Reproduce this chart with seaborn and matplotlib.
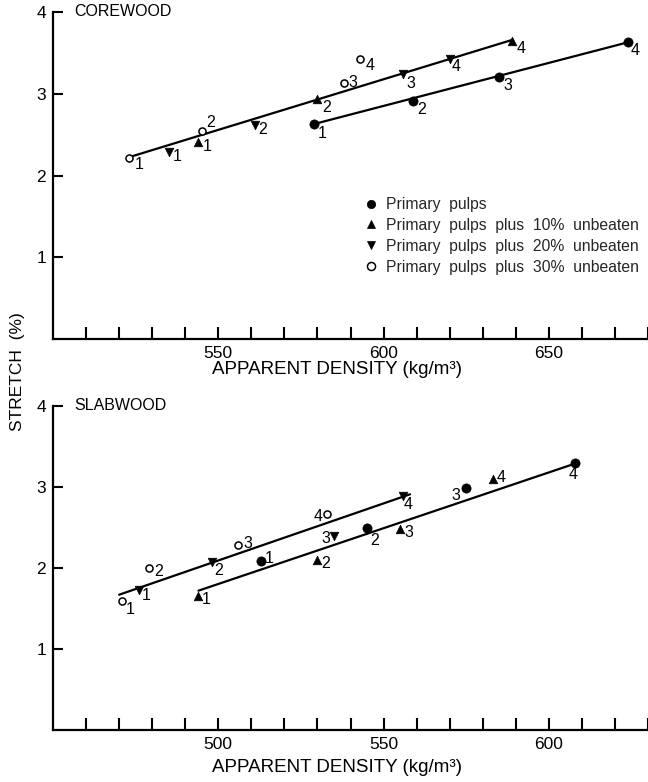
import matplotlib
matplotlib.use("Agg")
import matplotlib.pyplot as plt
from matplotlib.lines import Line2D
import matplotlib.transforms as mtransforms
import seaborn as sns
import pandas as pd
import numpy as np

sns.set_theme(style="white")
plt.rcParams['font.family'] = ['Liberation Sans', 'DejaVu Sans']

# ---------------- data ----------------
series_names = ["Primary  pulps",
                "Primary  pulps  plus  10%  unbeaten",
                "Primary  pulps  plus  20%  unbeaten",
                "Primary  pulps  plus  30%  unbeaten"]

# COREWOOD
core_primary_x = [579, 609, 635, 674]
core_primary_y = [2.63, 2.91, 3.21, 3.63]
core_primary_id = ["1", "2", "3", "4"]
core_p10_x = [544, 580, 639]
core_p10_y = [2.41, 2.93, 3.64]
core_p10_id = ["1", "2", "4"]
core_p20_x = [535, 561, 606, 620]
core_p20_y = [2.29, 2.62, 3.24, 3.43]
core_p20_id = ["1", "2", "3", "4"]
core_p30_x = [523, 545, 588, 593]
core_p30_y = [2.22, 2.55, 3.13, 3.42]
core_p30_id = ["1", "2", "3", "4"]
core_fit_upper_x = [523.5, 639]
core_fit_upper_y = [2.23, 3.66]
core_fit_lower_x = [579, 674]
core_fit_lower_y = [2.63, 3.63]

# SLABWOOD
slab_primary_x = [513, 545, 575, 608]
slab_primary_y = [2.09, 2.50, 2.99, 3.30]
slab_primary_id = ["1", "2", "3", "4"]
slab_p10_x = [494, 530, 555, 583]
slab_p10_y = [1.66, 2.10, 2.48, 3.10]
slab_p10_id = ["1", "2", "3", "4"]
slab_p20_x = [476, 498, 535, 556]
slab_p20_y = [1.73, 2.07, 2.40, 2.89]
slab_p20_id = ["1", "2", "3", "4"]
slab_p30_x = [471, 479, 506, 533]
slab_p30_y = [1.59, 2.00, 2.29, 2.67]
slab_p30_id = ["1", "2", "3", "4"]
slab_fit_upper_x = [470, 558]
slab_fit_upper_y = [1.67, 2.91]
slab_fit_lower_x = [494, 608]
slab_fit_lower_y = [1.72, 3.29]

x_tick_labels_core = [550, 600, 650]
x_tick_labels_slab = [500, 550, 600]
y_ticks = [1, 2, 3, 4]

# ---------------- styles / label offsets (pixels) ----------------
markers = ["o", "^", "v", "o"]
filled = [True, True, True, False]
msizes = [44, 38, 38, 26]

core_offsets = [
    [(8, -10), (8, -8), (9, -9), (7, -8)],
    [(9, -5), (9, -8), (9, -7)],
    [(8, -5), (8, -5), (8, -9), (6, -8)],
    [(10, -7), (9, 8), (9, 1), (10, -6)],
]
slab_offsets = [
    [(8, 2), (8, -13), (-10, -8), (-2, -12)],
    [(8, -4), (8, -4), (9, -3), (8, 1)],
    [(7, -6), (7, -8), (-8, -3), (5, -9)],
    [(8, -8), (10, -4), (10, 1), (-9, -3)],
]

fig = plt.figure(figsize=(6.48, 7.82), dpi=100)
W, H = 648, 782
ax_top = fig.add_axes([53 / W, 1 - 339 / H, 595 / W, 327 / H])
ax_bot = fig.add_axes([53 / W, 1 - 730 / H, 595 / W, 324 / H])


def draw_panel(ax, groups, fits, offsets, xlim, xlabels, title, xlab_drop):
    for i, (xs, ys, ids) in enumerate(groups):
        df = pd.DataFrame({"x": xs, "y": ys})
        if filled[i]:
            sns.scatterplot(data=df, x="x", y="y", ax=ax, marker=markers[i],
                            s=msizes[i], color="black", edgecolor="black",
                            linewidth=0.5, zorder=4)
        else:
            sns.scatterplot(data=df, x="x", y="y", ax=ax, marker=markers[i],
                            s=msizes[i], facecolor="white", edgecolor="black",
                            linewidth=1.1, zorder=4)
        for j, (xv, yv, lab) in enumerate(zip(xs, ys, ids)):
            dx, dy = offsets[i][j]
            tr = mtransforms.offset_copy(ax.transData, fig=fig,
                                         x=dx * 0.72, y=dy * 0.72, units="points")
            ax.text(xv, yv, lab, transform=tr, ha="center", va="center",
                    fontsize=11.5, color="black", zorder=5)
    for fx, fy in fits:
        dff = pd.DataFrame({"x": fx, "y": fy})
        sns.lineplot(data=dff, x="x", y="y", ax=ax, color="black", lw=1.6,
                     zorder=3)
    ticks = np.arange(xlim[0] + 10, xlim[1] + 1, 10)
    ax.set_xlim(*xlim)
    ax.set_ylim(0, 4)
    ax.set_xticks(ticks)
    ax.set_xticklabels([str(int(t)) if int(t) in xlabels else "" for t in ticks])
    ax.set_yticks(y_ticks)
    ax.set_yticklabels([str(t) for t in y_ticks])
    ax.tick_params(axis="x", direction="in", length=9, width=1.5, pad=5,
                   labelsize=12.5, colors="black", bottom=True)
    ax.tick_params(axis="y", direction="in", length=7, width=1.5, pad=5,
                   labelsize=12.5, colors="black", left=True)
    for s in ["top", "right"]:
        ax.spines[s].set_visible(False)
    for s in ["left", "bottom"]:
        ax.spines[s].set_visible(True)
        ax.spines[s].set_linewidth(1.6)
        ax.spines[s].set_color("black")
    ax.set_xlabel("APPARENT DENSITY (kg/m³)", fontsize=13.5, color="black")
    ax.xaxis.set_label_coords((337 - 53) / 595,
                              -xlab_drop / (ax.get_position().height * H))
    ax.xaxis.label.set_va("center")
    ax.set_ylabel("")
    ax.text(0.036, 1.0, title, transform=ax.transAxes, fontsize=11.5,
            ha="left", va="center", color="black")
    ax.set_facecolor("white")
    ax.grid(False)


draw_panel(ax_top,
           [(core_primary_x, core_primary_y, core_primary_id),
            (core_p10_x, core_p10_y, core_p10_id),
            (core_p20_x, core_p20_y, core_p20_id),
            (core_p30_x, core_p30_y, core_p30_id)],
           [(core_fit_upper_x, core_fit_upper_y),
            (core_fit_lower_x, core_fit_lower_y)],
           core_offsets, (500, 680), x_tick_labels_core, "COREWOOD", 31)

draw_panel(ax_bot,
           [(slab_primary_x, slab_primary_y, slab_primary_id),
            (slab_p10_x, slab_p10_y, slab_p10_id),
            (slab_p20_x, slab_p20_y, slab_p20_id),
            (slab_p30_x, slab_p30_y, slab_p30_id)],
           [(slab_fit_upper_x, slab_fit_upper_y),
            (slab_fit_lower_x, slab_fit_lower_y)],
           slab_offsets, (450, 630), x_tick_labels_slab, "SLABWOOD", 38)

# legend
handles = []
for i, name in enumerate(series_names):
    handles.append(Line2D([], [], linestyle="none", marker=markers[i],
                          markersize=6 if i == 0 else 5.8,
                          markerfacecolor="black" if filled[i] else "white",
                          markeredgecolor="black",
                          markeredgewidth=0.5 if filled[i] else 1.1))
leg = ax_top.legend(handles, series_names, loc="upper left",
                    bbox_to_anchor=((365 - 53) / 595, 1 - (197 - 12) / 327),
                    frameon=False, fontsize=11.3, handlelength=0.8,
                    handletextpad=0.55, labelspacing=0.38, borderpad=0,
                    borderaxespad=0)

fig.text(18 / W, 1 - 372 / H, "STRETCH  (%)", rotation=90, fontsize=12.5,
         ha="center", va="center", color="black")

fig.savefig("out.png", dpi=100, facecolor="white")
